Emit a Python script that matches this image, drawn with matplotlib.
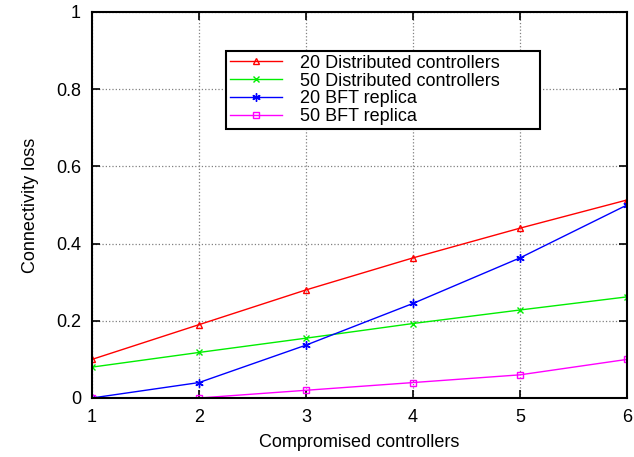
import matplotlib
matplotlib.use('Agg')
import matplotlib.pyplot as plt

plt.rcParams['font.family'] = ['Liberation Sans', 'DejaVu Sans']

# Data
compromised = [1, 2, 3, 4, 5, 6]
dist20 = [0.10, 0.19, 0.28, 0.363, 0.44, 0.513]
dist50 = [0.08, 0.118, 0.155, 0.193, 0.228, 0.262]
bft20 = [0.0, 0.04, 0.137, 0.245, 0.363, 0.50]
bft50 = [0.0, 0.0, 0.02, 0.04, 0.06, 0.10]

fig = plt.figure(figsize=(6.34, 4.57), dpi=100)
ax = fig.add_axes([92 / 634, 1 - 398 / 457, (627 - 92) / 634, (398 - 12) / 457])

ax.plot(compromised, dist20, color='red', marker='^', ms=5, mfc='none', lw=1, label='20 Distributed controllers')
ax.plot(compromised, dist50, color='#00ee00', marker='x', ms=5, lw=1, label='50 Distributed controllers')
ax.plot(compromised, bft20, color='blue', marker=(6, 2, 0), ms=6, lw=1, label='20 BFT replica')
ax.plot(compromised, bft50, color='magenta', marker='s', ms=5, mfc='none', lw=1, label='50 BFT replica')

ax.set_xlim(1, 6)
ax.set_ylim(0, 1)
ax.set_xticks(compromised)
ax.set_yticks([0, 0.2, 0.4, 0.6, 0.8, 1])
ax.set_yticklabels(['0', '0.2', '0.4', '0.6', '0.8', '1'])
ax.grid(True, color='#808080', linestyle=':', linewidth=0.9)
ax.tick_params(direction='in', top=True, right=True, length=6, width=1.2, labelsize=13, pad=8)
for sp in ax.spines.values():
    sp.set_linewidth(1.5)

ax.set_xlabel('Compromised controllers', fontsize=13, labelpad=6)
ax.set_ylabel('Connectivity loss', fontsize=13, labelpad=12)

# legend box spans roughly x 226..540 px, top at 51 px
x0 = (226 - 92) / 535
w = (540 - 226) / 535
top = (398 - 51) / 386
leg = ax.legend(loc='upper left', bbox_to_anchor=(x0, top - 0.2, w, 0.2), mode='expand',
                fontsize=13, frameon=True, fancybox=False, framealpha=1, edgecolor='black',
                borderpad=0.2, labelspacing=0.05, handlelength=2.9, handletextpad=1.0,
                borderaxespad=0)
leg.get_frame().set_linewidth(1.5)
leg.set_zorder(5)

fig.savefig('out.png', dpi=100)
